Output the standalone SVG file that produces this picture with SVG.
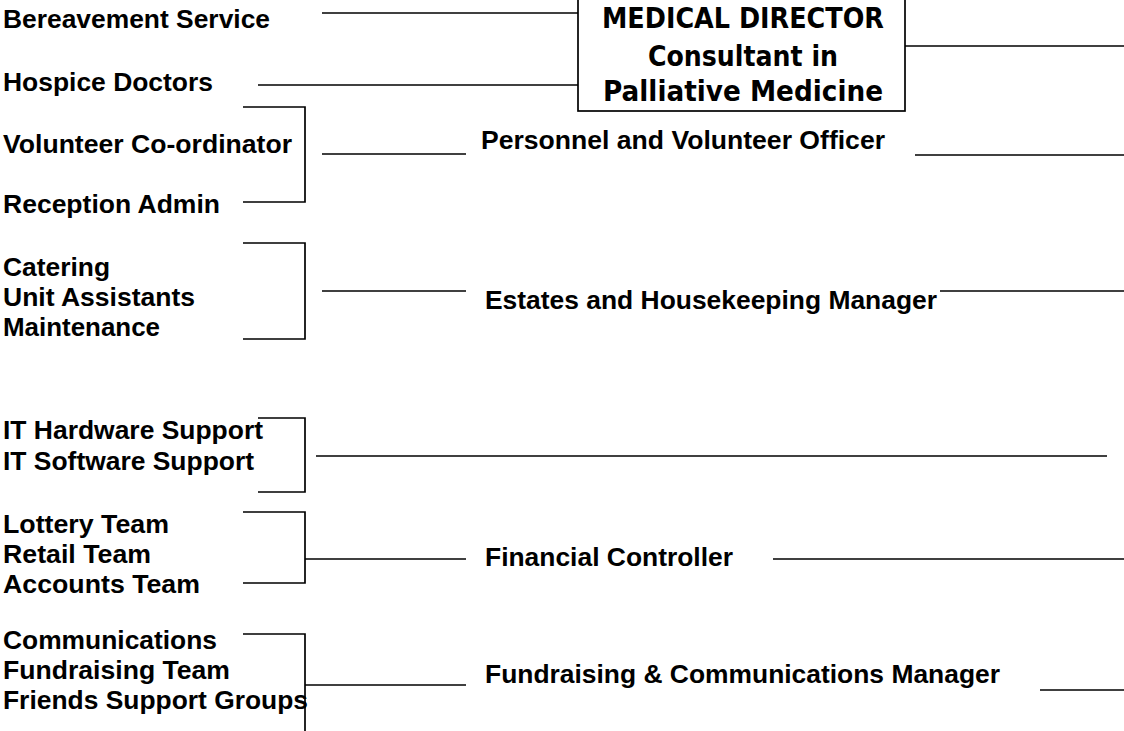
<svg xmlns="http://www.w3.org/2000/svg" width="1124" height="731" viewBox="0 0 1124 731">
<style>
.t{font-family:"Liberation Sans",Arial,sans-serif;font-weight:bold;font-size:26px;fill:#000}
.b{font-family:"DejaVu Sans",Verdana,sans-serif;font-weight:bold;font-size:28px;fill:#000;text-anchor:middle}
.c line,.c polyline{stroke:#000;stroke-width:1.7;fill:none}
</style>
<rect width="1124" height="731" fill="#fff"/>
<g id="connectors" class="c">
<line x1="322" y1="13" x2="578" y2="13"/>
<line x1="258" y1="85" x2="578" y2="85"/>
<line x1="905" y1="46" x2="1124" y2="46"/>
<polyline points="243,107 305,107 305,202 243,202"/>
<line x1="322" y1="154" x2="466" y2="154"/>
<line x1="915" y1="155" x2="1124" y2="155"/>
<polyline points="243,243 305,243 305,339 243,339"/>
<line x1="322" y1="291" x2="466" y2="291"/>
<line x1="940" y1="291" x2="1124" y2="291"/>
<polyline points="258,418 305,418 305,492 258,492"/>
<line x1="316" y1="456" x2="1107" y2="456"/>
<polyline points="243,512 305,512 305,583 243,583"/>
<line x1="305" y1="559" x2="466" y2="559"/>
<line x1="773" y1="559" x2="1124" y2="559"/>
<polyline points="243,634 305,634 305,731"/>
<line x1="305" y1="685" x2="466" y2="685"/>
<line x1="1040" y1="690" x2="1124" y2="690"/>
</g>
<g id="medical-director">
<rect x="578" y="-2" width="327" height="113" fill="#fff" stroke="#000" stroke-width="1.7"/>
<text class="b" x="743" y="28" textLength="282" lengthAdjust="spacingAndGlyphs">MEDICAL DIRECTOR</text>
<text class="b" x="743" y="65.5" textLength="190" lengthAdjust="spacingAndGlyphs">Consultant in</text>
<text class="b" x="743" y="101" textLength="280" lengthAdjust="spacingAndGlyphs">Palliative Medicine</text>
</g>
<g id="bereavement"><text class="t" x="3" y="28" textLength="267" lengthAdjust="spacingAndGlyphs">Bereavement Service</text></g>
<g id="hospice-doctors"><text class="t" x="3" y="91" textLength="210" lengthAdjust="spacingAndGlyphs">Hospice Doctors</text></g>
<g id="volunteer-coordinator"><text class="t" x="3" y="153" textLength="289" lengthAdjust="spacingAndGlyphs">Volunteer Co-ordinator</text></g>
<g id="reception-admin"><text class="t" x="3" y="213" textLength="217" lengthAdjust="spacingAndGlyphs">Reception Admin</text></g>
<g id="personnel-officer"><text class="t" x="481" y="149" textLength="404" lengthAdjust="spacingAndGlyphs">Personnel and Volunteer Officer</text></g>
<g id="estates-team">
<text class="t" x="3" y="276" textLength="107" lengthAdjust="spacingAndGlyphs">Catering</text>
<text class="t" x="3" y="306" textLength="192" lengthAdjust="spacingAndGlyphs">Unit Assistants</text>
<text class="t" x="3" y="336" textLength="157" lengthAdjust="spacingAndGlyphs">Maintenance</text>
</g>
<g id="estates-manager"><text class="t" x="485" y="309" textLength="452" lengthAdjust="spacingAndGlyphs">Estates and Housekeeping Manager</text></g>
<g id="it-team">
<text class="t" x="3" y="439" textLength="260" lengthAdjust="spacingAndGlyphs">IT Hardware Support</text>
<text class="t" x="3" y="470" textLength="251" lengthAdjust="spacingAndGlyphs">IT Software Support</text>
</g>
<g id="finance-team">
<text class="t" x="3" y="533" textLength="166" lengthAdjust="spacingAndGlyphs">Lottery Team</text>
<text class="t" x="3" y="563" textLength="148" lengthAdjust="spacingAndGlyphs">Retail Team</text>
<text class="t" x="3" y="593" textLength="197" lengthAdjust="spacingAndGlyphs">Accounts Team</text>
</g>
<g id="financial-controller"><text class="t" x="485" y="566" textLength="248" lengthAdjust="spacingAndGlyphs">Financial Controller</text></g>
<g id="fundraising-team">
<text class="t" x="3" y="649" textLength="214" lengthAdjust="spacingAndGlyphs">Communications</text>
<text class="t" x="3" y="679" textLength="227" lengthAdjust="spacingAndGlyphs">Fundraising Team</text>
<text class="t" x="3" y="709" textLength="305" lengthAdjust="spacingAndGlyphs">Friends Support Groups</text>
</g>
<g id="fundraising-manager"><text class="t" x="485" y="683" textLength="515" lengthAdjust="spacingAndGlyphs">Fundraising &amp; Communications Manager</text></g>
</svg>
